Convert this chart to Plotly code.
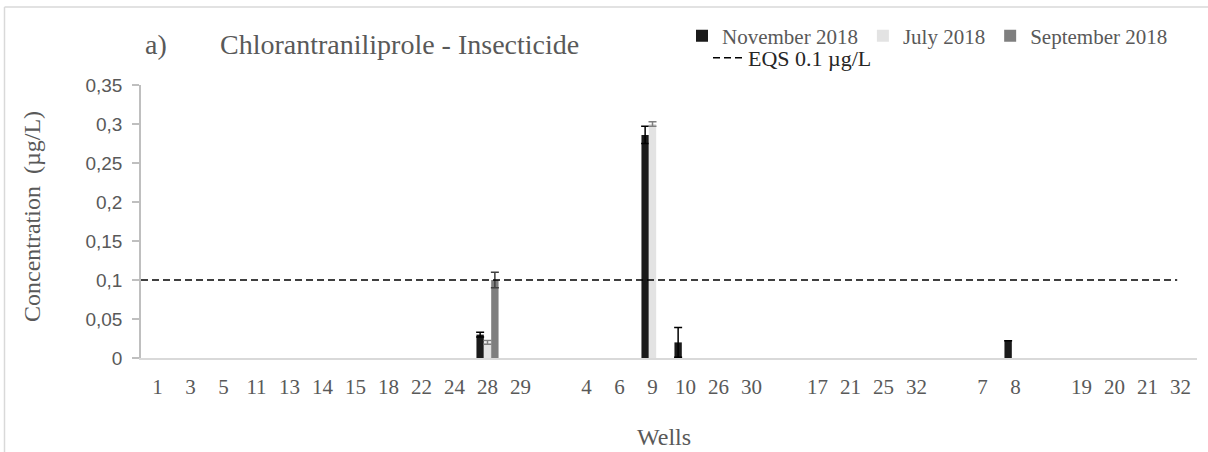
import plotly.graph_objects as go

# Wells grouped by zone; empty strings are spacer slots between zones
wells = ["1", "3", "5", "11", "13", "14", "15", "18", "22", "24", "28", "29", "",
         "4", "6", "9", "10", "26", "30", "",
         "17", "21", "25", "32", "",
         "7", "8", "",
         "19", "20", "21", "32"]

# Concentrations (µg/L); None = not detected / spacer slot
nov_2018 = [None] * 10 + [0.030] + [None] * 4 + [0.286, 0.020] + [None] * 9 + [0.022] + [None] * 5
nov_err = [None] * 10 + [0.003] + [None] * 4 + [0.011, 0.019] + [None] * 15

jul_2018 = [None] * 10 + [0.020] + [None] * 4 + [0.300] + [None] * 16
jul_err = [None] * 10 + [0.0025] + [None] * 4 + [0.003] + [None] * 16

sep_2018 = [None] * 10 + [0.100] + [None] * 21
sep_err = [None] * 10 + [0.010] + [None] * 21

eqs_value = 0.1
y_ticks = [0, 0.05, 0.1, 0.15, 0.2, 0.25, 0.3, 0.35]

W, H = 1208, 452
ML, MR, MT, MB = 141, 11, 85, 94
PW, PH = W - ML - MR, H - MT - MB


def px(x):
    return (x - ML) / PW


def py(y):
    return (H - MB - y) / PH


GREY_TXT = "#595959"
SERIF = "Liberation Serif, Times New Roman, serif"
SANS = "Liberation Sans, Arial, sans-serif"

idx = list(range(len(wells)))

fig = go.Figure()
series = [
    ("November 2018", nov_2018, nov_err, "#1a1a1a", "#000000"),
    ("July 2018", jul_2018, jul_err, "#e3e3e3", "#7f7f7f"),
    ("September 2018", sep_2018, sep_err, "#7f7f7f", "#404040"),
]
for name, vals, errs, col, ecol in series:
    fig.add_trace(go.Bar(
        x=idx, y=vals, name=name,
        marker=dict(color=col, line=dict(width=0)),
        error_y=dict(type="data", array=errs, visible=True,
                     color=ecol, thickness=1.5, width=4),
        legend="legend",
    ))

fig.add_trace(go.Scatter(
    x=[-0.5, len(wells) - 1.1], y=[eqs_value, eqs_value],
    mode="lines", name="EQS 0.1 µg/L",
    line=dict(color="#000000", width=1.5, dash="7px,4px"),
    legend="legend2",
))

fig.update_layout(
    width=W, height=H,
    margin=dict(l=ML, r=MR, t=MT, b=MB, autoexpand=False),
    paper_bgcolor="white", plot_bgcolor="white",
    separators=", ",
    barmode="group", bargap=0.33, bargroupgap=0,
    showlegend=True,
    legend=dict(orientation="h", x=px(682), y=py(36), xanchor="left", yanchor="middle",
                font=dict(family=SERIF, size=21, color=GREY_TXT),
                itemwidth=30, bgcolor="rgba(0,0,0,0)", traceorder="normal"),
    legend2=dict(orientation="h", x=px(708), y=py(58), xanchor="left", yanchor="middle",
                 font=dict(family=SERIF, size=22, color="#262626"),
                 itemwidth=30, bgcolor="rgba(0,0,0,0)"),
    xaxis=dict(range=[-0.5, len(wells) - 0.5], tickmode="array", tickvals=idx, ticktext=wells,
               showline=True, linecolor="#d9d9d9", linewidth=1.5, showgrid=False, zeroline=False,
               ticks="", ticklabelstandoff=9,
               tickfont=dict(family=SERIF, size=21, color=GREY_TXT)),
    yaxis=dict(range=[0, 0.35], tickmode="array", tickvals=y_ticks,
               showline=True, linecolor="#bfbfbf", linewidth=1.5, showgrid=False, zeroline=False,
               ticks="outside", ticklen=7, tickcolor="#bfbfbf", tickwidth=1.5, ticklabelstandoff=6,
               tickfont=dict(family=SANS, size=19, color=GREY_TXT)),
    annotations=[
        dict(text="a)", x=px(143), y=py(44), xref="paper", yref="paper",
             xanchor="left", yanchor="middle", showarrow=False,
             font=dict(family=SERIF, size=28, color=GREY_TXT)),
        dict(text="Chlorantraniliprole - Insecticide", x=px(218), y=py(44),
             xref="paper", yref="paper", xanchor="left", yanchor="middle", showarrow=False,
             font=dict(family=SERIF, size=28, color=GREY_TXT)),
        dict(text="Concentration\u00a0 (µg/L)", x=px(32), y=py(217), xref="paper", yref="paper",
             xanchor="center", yanchor="middle", textangle=-90, showarrow=False,
             font=dict(family=SERIF, size=24, color=GREY_TXT)),
        dict(text="Wells", x=px(664), y=py(437), xref="paper", yref="paper",
             xanchor="center", yanchor="middle", showarrow=False,
             font=dict(family=SERIF, size=24, color=GREY_TXT)),
    ],
    shapes=[
        dict(type="line", xref="paper", yref="paper", x0=px(4.5), x1=px(4.5), y0=py(H + 5), y1=py(7),
             line=dict(color="#d9d9d9", width=1.5)),
        dict(type="line", xref="paper", yref="paper", x0=px(4.5), x1=px(W + 5), y0=py(7), y1=py(7),
             line=dict(color="#d9d9d9", width=1.5)),
    ],
)

fig.write_html("out.html")
